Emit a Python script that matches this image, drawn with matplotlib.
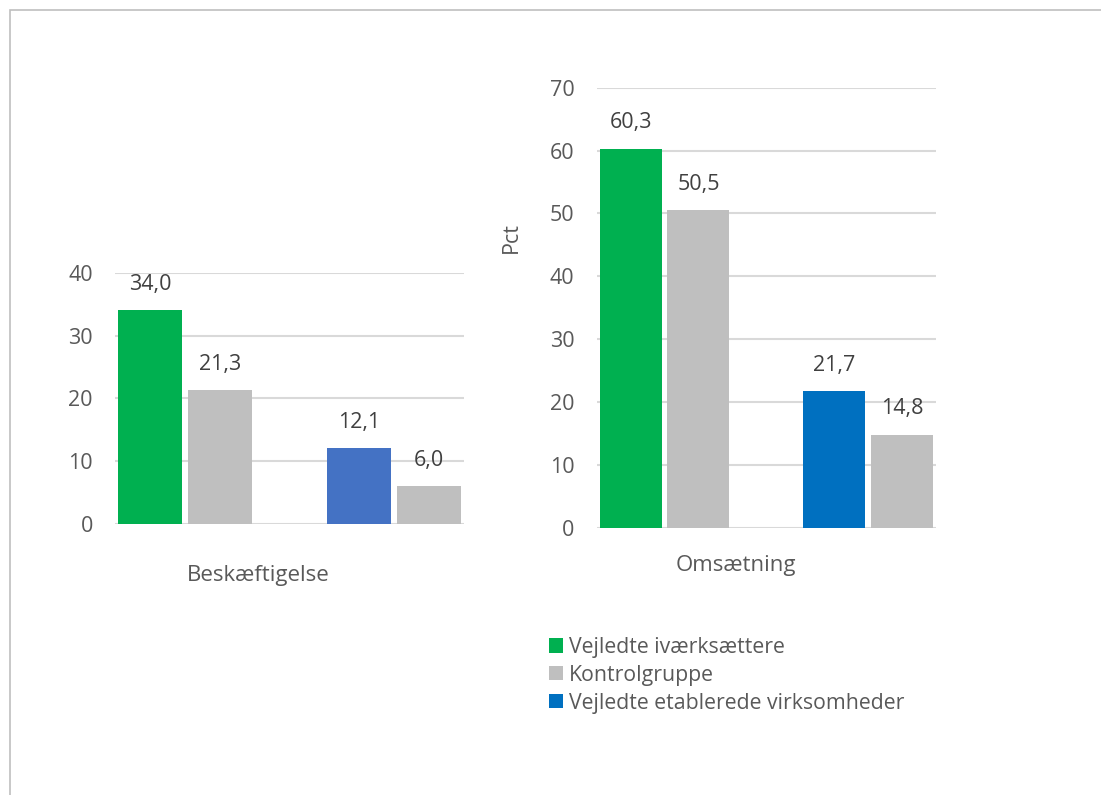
import matplotlib
matplotlib.use("Agg")
import matplotlib.pyplot as plt
from matplotlib.patches import Patch, Rectangle

plt.rcParams['font.family'] = ['Open Sans', 'DejaVu Sans']

series = ["Vejledte iværksættere", "Kontrolgruppe", "Vejledte etablerede virksomheder"]
left_title = "Beskæftigelse"
right_title = "Omsætning"
left_values = [34.0, 21.3, 12.1, 6.0]
right_values = [60.3, 50.5, 21.7, 14.8]
left_ticks = [0, 10, 20, 30, 40]
right_ticks = [0, 10, 20, 30, 40, 50, 60, 70]

GREEN = "#00B050"
GRAY = "#BFBFBF"
BLUE_L = "#4472C4"
BLUE_R = "#0070C0"
TXT = "#595959"
LBL = "#404040"
GRID = "#D9D9D9"
FS = 15.5
FS_CAT = 16
FS_LEG = 15.3

fig = plt.figure(figsize=(11.01, 7.95), dpi=100)

# outer border (top and left visible)
fig.patches.append(Rectangle((10/1101, -0.05), 1.2, 1.05 - 10/795,
                             transform=fig.transFigure, fill=False,
                             edgecolor="#BFBFBF", linewidth=1.2))

def draw(ax, values, colors, ticks, ymax):
    xs = [0 - 1/6, 0 + 1/6, 1 - 1/6, 1 + 1/6]
    bars = ax.bar(xs, values, width=0.305, color=colors, zorder=3)
    for b, v in zip(bars, values):
        ax.annotate(f"{v:.1f}".replace(".", ","),
                    (b.get_x() + b.get_width()/2, v),
                    xytext=(0, 18.5), textcoords="offset points",
                    ha="center", va="center", fontsize=FS, color=LBL)
    ax.set_xlim(-1/3, 4/3)
    ax.set_ylim(0, ymax)
    ax.set_yticks(ticks)
    ax.set_yticklabels([str(t) for t in ticks])
    ax.set_xticks([])
    for s in ax.spines.values():
        s.set_visible(False)
    ax.yaxis.grid(True, color=GRID, linewidth=1.5, zorder=0)
    ax.set_axisbelow(True)
    ax.tick_params(axis="y", length=0, pad=16, labelsize=FS, labelcolor=TXT)

ax1 = fig.add_axes([115/1101, 1 - 524/795, 349/1101, (524 - 272.7)/795])
draw(ax1, left_values, [GREEN, GRAY, BLUE_L, GRAY], left_ticks, 40)

ax2 = fig.add_axes([596.7/1101, 1 - 527.7/795, 339/1101, (527.7 - 87.7)/795])
draw(ax2, right_values, [GREEN, GRAY, BLUE_R, GRAY], right_ticks, 70)

fig.text(258/1101, 1 - 575/795, left_title, ha="center", va="center",
         fontsize=FS_CAT, color=TXT)
fig.text(735.5/1101, 1 - 566/795, right_title, ha="center", va="center",
         fontsize=FS_CAT, color=TXT)
fig.text(511/1101, 1 - 238/795, "Pct", ha="center", va="center",
         rotation=90, fontsize=FS, color=TXT)

handles = [Patch(facecolor=GREEN), Patch(facecolor=GRAY), Patch(facecolor=BLUE_R)]
leg = fig.legend(handles, series, loc="upper left",
                 bbox_to_anchor=(549/1101, 1 - 637/795),
                 frameon=False, fontsize=FS_LEG, handlelength=0.65, handleheight=0.65,
                 handletextpad=0.3, labelspacing=0.32, borderaxespad=0,
                 borderpad=0)
for t in leg.get_texts():
    t.set_color(TXT)

fig.savefig("out.png", dpi=100)
